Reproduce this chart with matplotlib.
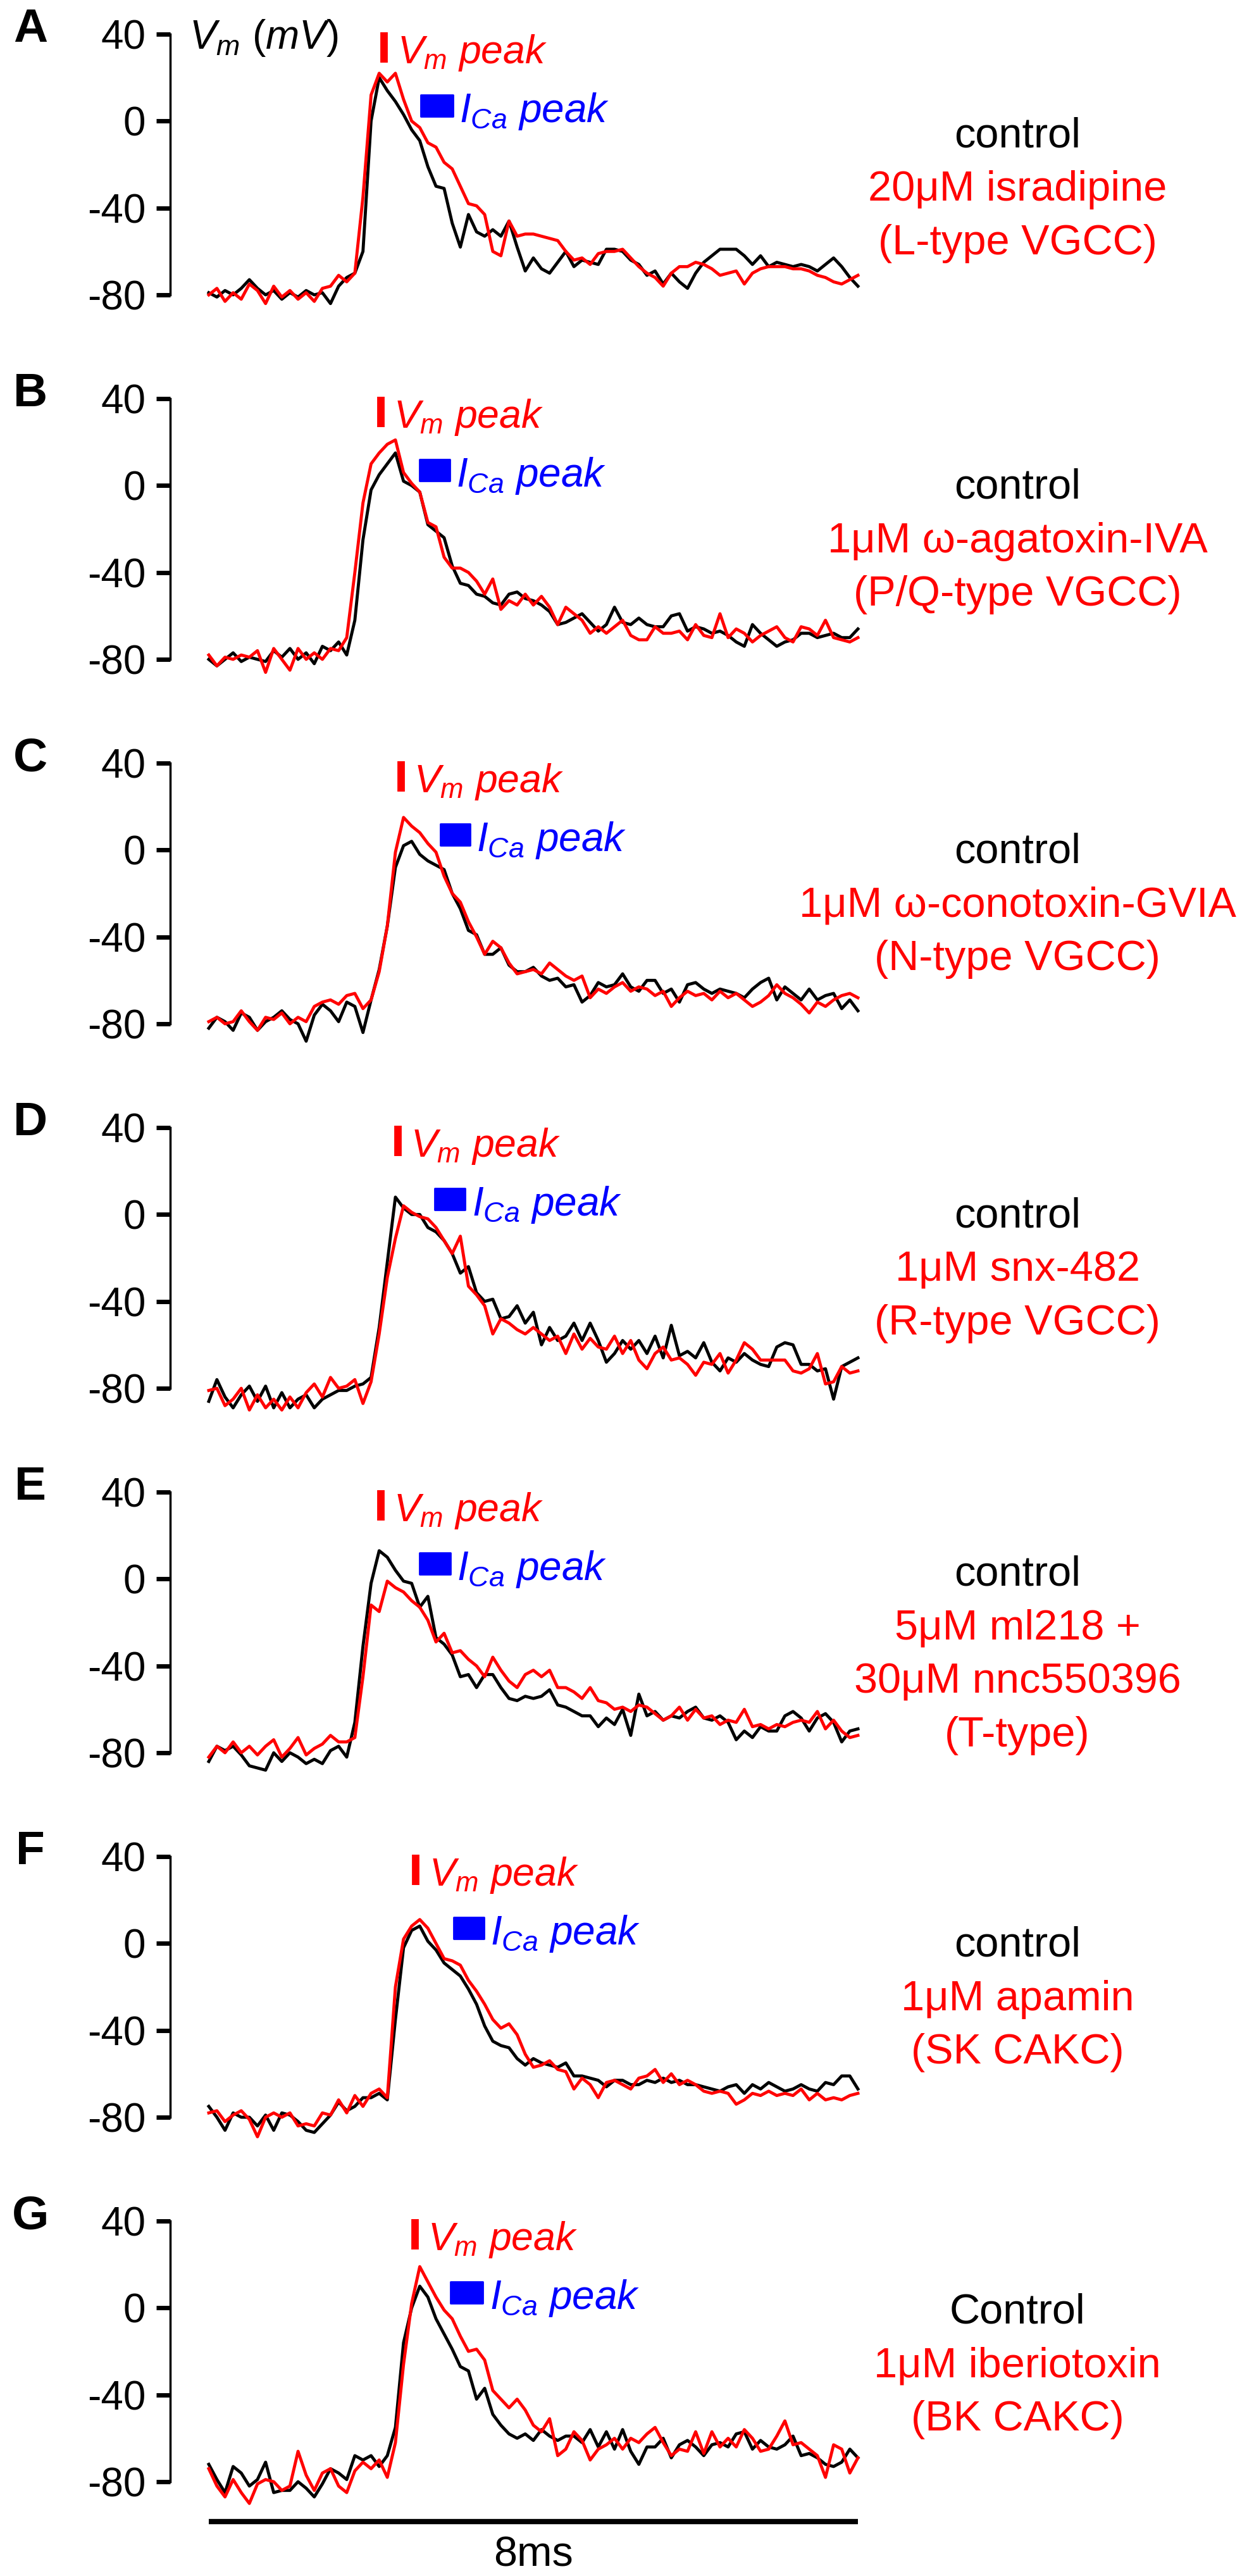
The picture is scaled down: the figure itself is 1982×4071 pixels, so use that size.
import numpy as np
import matplotlib
matplotlib.use("Agg")
import matplotlib.pyplot as plt
from matplotlib.patches import Rectangle

plt.rcParams['font.family'] = ['Liberation Sans', 'DejaVu Sans']
plt.rcParams['mathtext.fontset'] = 'custom'
plt.rcParams['mathtext.it'] = 'Liberation Sans:italic'
plt.rcParams['mathtext.rm'] = 'Liberation Sans'

# ---- data ----
t_ms = np.round(np.arange(81) * 0.1, 1)   # sampling grid, 0..8 ms

ctrl_A = [-79, -81, -78, -80, -77, -73, -77, -80, -78, -82, -79, -81, -78, -80, -79, -84, -76, -72, -70, -60,
          0, 20, 14, 9, 3, -4, -9, -21, -30, -31, -47, -58, -43, -51, -53, -50, -53, -46, -58, -69,
          -63, -68, -70, -65, -60, -67, -64, -65, -66, -59, -59, -60, -64, -66, -71, -69, -75, -70, -74, -77,
          -70, -65, -62, -59, -59, -59, -62, -66, -62, -67, -65, -66, -67, -66, -67, -69, -66, -63, -67, -72, -76]
drug_A = [-80, -77, -83, -79, -82, -75, -78, -84, -76, -81, -78, -82, -79, -83, -77, -76, -71, -74, -70, -35,
          12, 22, 18, 22, 10, 0, -3, -10, -12, -19, -22, -30, -38, -39, -43, -60, -62, -46, -53, -52,
          -52, -53, -54, -55, -60, -64, -63, -66, -61, -60, -60, -59, -63, -67, -70, -72, -76, -70, -67, -67,
          -65, -66, -68, -71, -70, -69, -75, -70, -68, -67, -67, -67, -68, -68, -69, -71, -72, -74, -75, -73, -71]

ctrl_B = [-80, -83, -80, -77, -81, -79, -80, -81, -76, -79, -75, -80, -77, -82, -74, -76, -72, -78, -62, -25,
          -2, 5, 10, 15, 2, 0, -3, -18, -21, -24, -37, -45, -46, -50, -51, -54, -55, -50, -49, -52,
          -53, -55, -58, -64, -63, -61, -59, -63, -67, -64, -56, -63, -64, -61, -64, -65, -65, -60, -59, -67,
          -65, -66, -68, -67, -69, -72, -74, -64, -68, -71, -74, -72, -71, -68, -68, -70, -69, -68, -70, -70, -66]
drug_B = [-78, -83, -79, -80, -78, -79, -76, -86, -75, -80, -85, -75, -80, -77, -80, -75, -76, -70, -40, -8,
          10, 15, 19, 21, 6, 1, -3, -17, -19, -33, -38, -38, -40, -44, -50, -43, -57, -53, -55, -50,
          -55, -51, -56, -64, -56, -59, -62, -68, -65, -68, -65, -62, -69, -71, -71, -65, -68, -68, -67, -71,
          -64, -69, -70, -59, -70, -66, -68, -72, -69, -67, -65, -70, -72, -65, -66, -69, -62, -70, -71, -72, -70]

ctrl_C = [-82, -77, -79, -83, -75, -77, -83, -79, -77, -74, -78, -80, -88, -76, -71, -74, -79, -70, -72, -84,
          -69, -55, -35, -8, 2, 4, -2, -5, -7, -9, -20, -27, -37, -39, -48, -48, -45, -53, -56, -56,
          -54, -58, -60, -59, -63, -62, -70, -67, -61, -63, -62, -57, -63, -65, -60, -60, -66, -64, -70, -62,
          -61, -64, -66, -64, -65, -66, -68, -64, -61, -59, -69, -63, -66, -69, -64, -69, -67, -66, -73, -69, -74]
drug_C = [-79, -77, -80, -79, -74, -79, -83, -77, -78, -75, -80, -77, -79, -72, -70, -69, -71, -67, -66, -73,
          -69, -56, -35, -1, 15, 11, 8, 3, -1, -12, -20, -24, -33, -40, -48, -42, -45, -52, -57, -56,
          -55, -57, -52, -55, -58, -60, -58, -68, -64, -66, -63, -61, -65, -63, -64, -67, -65, -72, -68, -65,
          -67, -66, -69, -65, -68, -66, -69, -72, -70, -67, -62, -66, -68, -71, -75, -70, -72, -69, -67, -66, -68]

ctrl_D = [-86, -76, -84, -89, -83, -79, -86, -79, -89, -82, -89, -85, -83, -89, -85, -83, -81, -81, -79, -78,
          -75, -52, -22, 8, 3, 0, 0, -6, -8, -12, -18, -27, -24, -36, -40, -39, -48, -47, -42, -50,
          -45, -60, -52, -58, -56, -50, -58, -50, -58, -68, -64, -58, -62, -58, -64, -56, -66, -51, -65, -63,
          -66, -59, -68, -72, -66, -68, -64, -67, -69, -70, -61, -59, -60, -69, -69, -72, -71, -85, -70, -68, -66]
drug_D = [-81, -80, -88, -85, -80, -90, -83, -89, -85, -90, -84, -89, -82, -78, -84, -75, -80, -79, -76, -87,
          -77, -55, -29, -11, 4, 1, -1, -2, -6, -12, -18, -10, -33, -37, -42, -55, -48, -50, -53, -55,
          -52, -55, -58, -56, -64, -55, -62, -57, -61, -62, -56, -64, -58, -67, -71, -64, -61, -67, -66, -69,
          -74, -68, -69, -64, -73, -67, -59, -62, -67, -67, -67, -67, -72, -73, -71, -64, -78, -77, -70, -73, -72]

ctrl_E = [-84, -77, -79, -77, -81, -86, -87, -88, -80, -84, -80, -82, -85, -83, -85, -79, -77, -82, -66, -31,
          -2, 13, 10, 4, -1, -2, -13, -8, -27, -30, -35, -45, -44, -50, -44, -44, -50, -55, -56, -54,
          -55, -54, -51, -58, -59, -61, -63, -63, -68, -64, -67, -60, -72, -53, -63, -61, -65, -63, -64, -61,
          -59, -64, -65, -63, -66, -74, -70, -73, -68, -70, -70, -63, -61, -64, -70, -64, -62, -66, -75, -70, -69]
drug_E = [-82, -77, -80, -75, -80, -77, -81, -77, -74, -82, -78, -73, -81, -78, -76, -72, -75, -75, -73, -45,
          -12, -15, -1, -4, -6, -10, -13, -19, -29, -25, -34, -33, -37, -40, -45, -36, -42, -47, -50, -44,
          -42, -45, -42, -50, -50, -52, -55, -50, -56, -57, -60, -59, -61, -58, -59, -62, -65, -63, -59, -65,
          -60, -64, -63, -67, -65, -66, -60, -68, -67, -69, -67, -68, -66, -65, -66, -61, -69, -65, -70, -73, -72]

ctrl_F = [-75, -80, -86, -78, -80, -80, -84, -79, -86, -78, -79, -82, -86, -87, -83, -79, -73, -77, -75, -71,
          -71, -69, -72, -35, -2, 6, 8, 1, -3, -9, -12, -15, -21, -28, -38, -45, -47, -48, -53, -56,
          -53, -55, -56, -57, -55, -61, -61, -62, -63, -66, -63, -63, -65, -65, -63, -64, -62, -64, -63, -65,
          -65, -66, -67, -68, -66, -65, -69, -65, -67, -64, -66, -68, -67, -65, -67, -68, -64, -65, -61, -61, -67]
drug_F = [-78, -77, -82, -79, -77, -81, -89, -80, -78, -80, -78, -84, -83, -84, -78, -79, -72, -78, -70, -75,
          -69, -67, -71, -20, 2, 8, 11, 7, 0, -7, -8, -10, -17, -22, -28, -35, -39, -37, -42, -51,
          -57, -56, -54, -58, -59, -67, -62, -65, -71, -64, -63, -65, -67, -62, -61, -58, -64, -60, -65, -63,
          -65, -68, -69, -68, -69, -74, -72, -69, -70, -68, -70, -69, -70, -67, -72, -69, -72, -71, -72, -70, -69]

ctrl_G = [-72, -79, -85, -73, -76, -82, -79, -71, -85, -84, -84, -80, -83, -87, -81, -74, -76, -79, -68, -70,
          -68, -73, -68, -55, -16, 0, 10, 5, -5, -12, -19, -27, -29, -42, -37, -49, -54, -58, -60, -58,
          -61, -56, -59, -61, -59, -59, -62, -56, -64, -57, -65, -56, -66, -72, -64, -64, -60, -69, -63, -61,
          -64, -68, -63, -62, -64, -58, -57, -65, -61, -64, -65, -63, -59, -68, -67, -69, -72, -73, -71, -65, -69]
drug_G = [-74, -82, -87, -79, -85, -90, -81, -79, -80, -84, -82, -66, -77, -84, -76, -74, -82, -85, -75, -71,
          -74, -70, -78, -62, -26, 2, 19, 12, 5, -1, -5, -13, -20, -19, -24, -38, -42, -46, -42, -47,
          -54, -57, -51, -68, -65, -57, -61, -70, -65, -63, -60, -65, -60, -62, -58, -55, -62, -68, -65, -66,
          -57, -67, -57, -64, -60, -64, -56, -60, -66, -65, -59, -52, -63, -62, -65, -68, -78, -63, -65, -76, -69]

panel_letters = ['A', 'B', 'C', 'D', 'E', 'F', 'G']
control_traces = [ctrl_A, ctrl_B, ctrl_C, ctrl_D, ctrl_E, ctrl_F, ctrl_G]
drug_traces = [drug_A, drug_B, drug_C, drug_D, drug_E, drug_F, drug_G]

control_names = ['control', 'control', 'control', 'control', 'control', 'control', 'Control']
drug_names = [
    ['20μM isradipine', '(L-type VGCC)'],
    ['1μM ω-agatoxin-IVA', '(P/Q-type VGCC)'],
    ['1μM ω-conotoxin-GVIA', '(N-type VGCC)'],
    ['1μM snx-482', '(R-type VGCC)'],
    ['5μM ml218 +', '30μM nnc550396', '(T-type)'],
    ['1μM apamin', '(SK CAKC)'],
    ['1μM iberiotoxin', '(BK CAKC)'],
]

# peak markers (ms)
vm_peak_t = [2.16, 2.12, 2.37, 2.33, 2.12, 2.55, 2.54]
ica_peak_start = [2.61, 2.60, 2.85, 2.78, 2.60, 3.02, 2.98]
ica_peak_end = [3.01, 2.97, 3.22, 3.16, 2.98, 3.39, 3.38]

yticks = [40, 0, -40, -80]
ytick_labels = ['40', '0', '-40', '-80']
scale_bar_ms = 8

# ---- layout (pixels of the 1983x4071 output) ----
W, H = 1983, 4071
fig = plt.figure(figsize=(W / 100, H / 100), dpi=100)

px_per_ms = 128.25
px_per_mv = 412 / 120.0
xlim = (-0.476, 8.1)
ylim = (-95, 45)
label_top = [-7, -1, -1, -1, 2, -1, -2]   # mV of first label line
RED, BLUE = '#ff0000', '#0000ff'

for k in range(7):
    y40 = 54 + 576 * k
    top_px = y40 - (ylim[1] - 40) * px_per_mv
    bot_px = y40 + (40 - ylim[0]) * px_per_mv
    left_px = 330 + xlim[0] * px_per_ms
    right_px = 330 + xlim[1] * px_per_ms
    ax = fig.add_axes([left_px / W, 1 - bot_px / H, (right_px - left_px) / W, (bot_px - top_px) / H])
    ax.set_xlim(*xlim)
    ax.set_ylim(*ylim)

    ax.plot(t_ms, control_traces[k], color='black', lw=3.5, clip_on=False)
    ax.plot(t_ms, drug_traces[k], color=RED, lw=3.5, clip_on=False)

    for s in ['top', 'right', 'bottom']:
        ax.spines[s].set_visible(False)
    ax.spines['left'].set_bounds(-80, 40)
    ax.spines['left'].set_linewidth(2.5)
    ax.set_xticks([])
    ax.set_yticks(yticks)
    ax.set_yticklabels(ytick_labels)
    ax.tick_params(axis='y', length=16, width=5, pad=12, labelsize=46)

    # peak markers
    ax.plot([vm_peak_t[k], vm_peak_t[k]], [27, 41], color=RED, lw=8.5,
            solid_capstyle='butt', clip_on=False)
    ax.text(vm_peak_t[k] + 0.16, 26.5, r'$\mathit{V_m\ peak}$', color=RED,
            fontsize=45, ha='left', va='baseline')
    ax.add_patch(Rectangle((ica_peak_start[k], 2), ica_peak_end[k] - ica_peak_start[k], 10,
                           facecolor=BLUE, edgecolor=BLUE, lw=2, joinstyle='round', clip_on=False))
    ax.text(ica_peak_end[k] + 0.08, -0.5, r'$\mathit{I_{Ca}\ peak}$', color=BLUE,
            fontsize=46, ha='left', va='baseline')

    # legend text on the right
    lines = [(control_names[k], 'black')] + [(s, RED) for s in drug_names[k]]
    for i, (s, c) in enumerate(lines):
        ax.text(9.965, label_top[k] - 24.7 * i, s, color=c, fontsize=48,
                ha='center', va='center')

    fig.text(48 / W, 1 - (47 + 576 * k) / H, panel_letters[k], fontsize=54,
             fontweight='bold', ha='center', va='center')

    if k == 0:
        ax.text(-0.24, 33.3, r'$\mathit{V_m\ (mV)}$', fontsize=46, ha='left', va='baseline')

    if k == 6:
        ax.plot([0, scale_bar_ms], [-98.4, -98.4], color='black', lw=6,
                solid_capstyle='butt', clip_on=False)
        ax.text(scale_bar_ms / 2, -113.8, '%dms' % scale_bar_ms, fontsize=48,
                ha='center', va='center')

fig.savefig('out.png', dpi=100)
